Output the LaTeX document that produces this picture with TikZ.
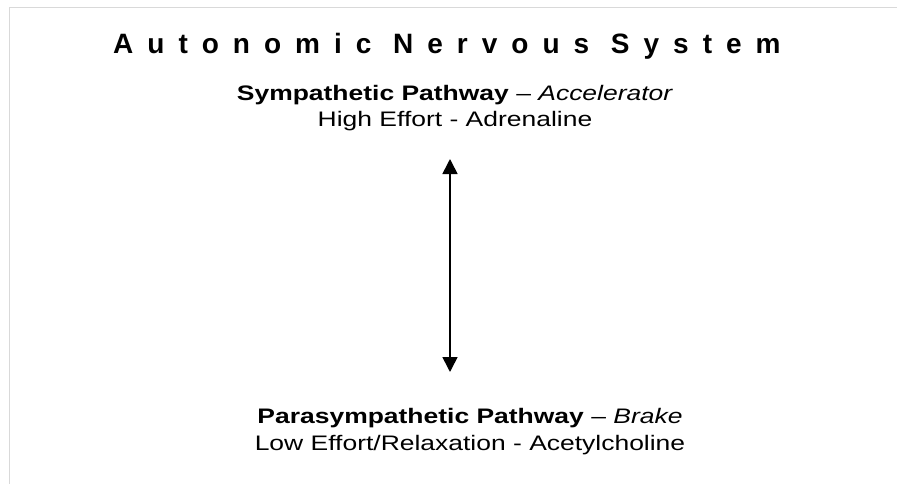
\documentclass[tikz,border=0pt]{standalone}
\usepackage{fontspec}
\setmainfont{Liberation Sans}[FakeStretch=1.26]
\newfontfamily\titlefont{Liberation Sans}[LetterSpace=50]
\usetikzlibrary{arrows.meta}
\begin{document}
\begin{tikzpicture}[x=1pt,y=-1pt,
  frameline/.style={draw=black!15,line width=1.5pt},
  txt/.style={inner sep=0pt,anchor=base},
  dblarrow/.style={line width=1.6pt,{Triangle[width=15pt,length=15pt]}-{Triangle[width=15pt,length=15pt]}}]
\useasboundingbox[fill=white] (0,0) rectangle (897,484);
\draw[frameline] (9.5,484) -- (9.5,7.5) -- (897,7.5);
\node[txt,anchor=base west] (title) at (113,54)
  {\fontsize{28}{34}\titlefont\bfseries Autonomic Nervous System};
\node[txt] (symp) at (455,101)
  {\fontsize{21}{26}\selectfont\textbf{Sympathetic Pathway} -- \textit{Accelerator}};
\node[txt] (sympsub) at (455,127)
  {\fontsize{21}{26}\selectfont High Effort - Adrenaline};
\node[txt] (para) at (470,423)
  {\fontsize{21}{26}\selectfont\textbf{Parasympathetic Pathway} -- \textit{Brake}};
\node[txt] (parasub) at (470,450)
  {\fontsize{21}{26}\selectfont Low Effort/Relaxation - Acetylcholine};
\coordinate (up) at (450,159);
\coordinate (down) at (450,372);
\draw[dblarrow] (up) -- (down);
\end{tikzpicture}
\end{document}
